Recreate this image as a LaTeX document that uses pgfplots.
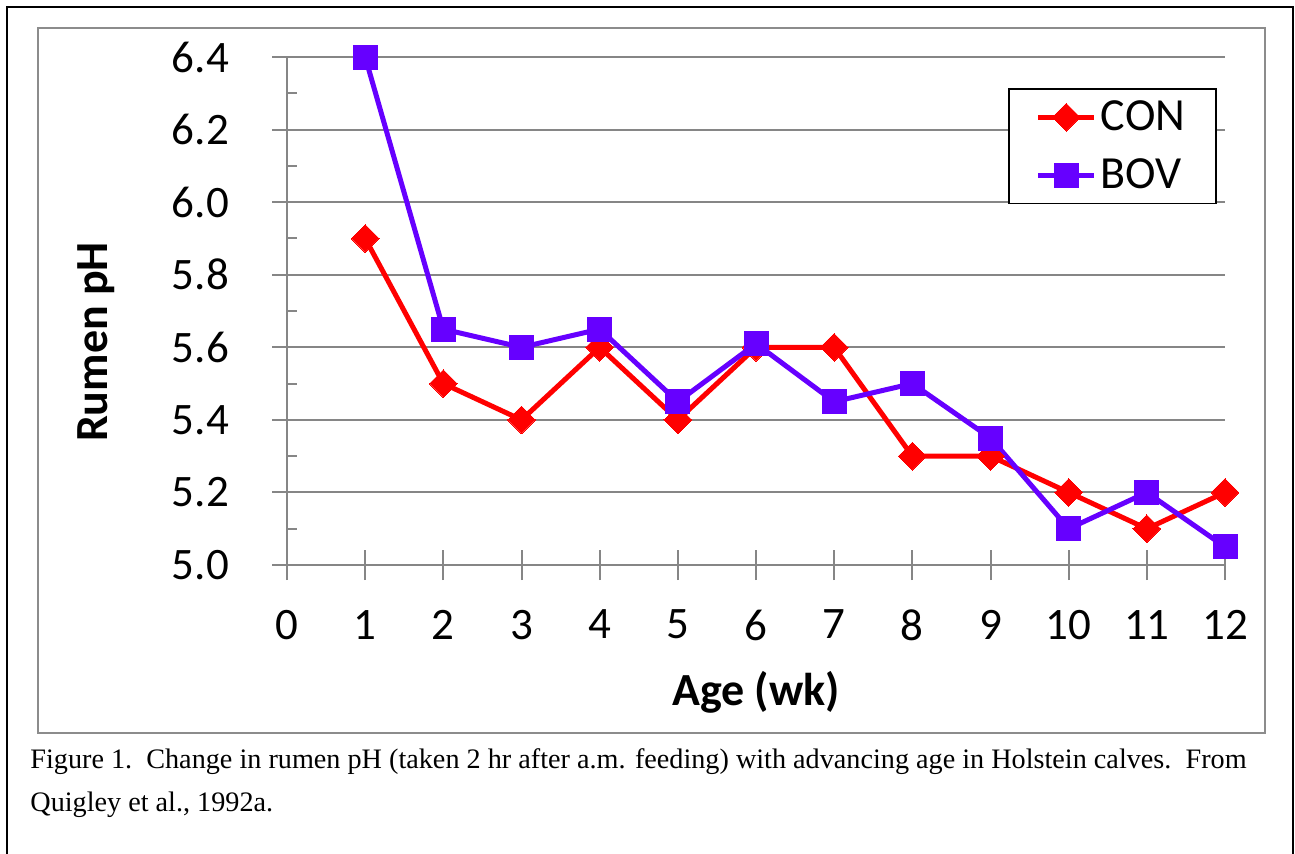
\documentclass[border=0pt]{standalone}
\usepackage{fontspec}
\setmainfont{Carlito}
\newfontfamily\capfont{Liberation Serif}
\usepackage{pgfplots}
\pgfplotsset{compat=1.18}
\definecolor{gridgray}{RGB}{134,134,134}
\definecolor{boxgray}{RGB}{140,140,140}
\definecolor{conred}{RGB}{255,0,0}
\definecolor{bovpurple}{RGB}{102,0,255}
\begin{document}
\begin{tikzpicture}
\path[use as bounding box] (0,0) rectangle (647.5pt,-426.5pt);
% outer frame
\draw[black, line width=1pt] (3.5pt,-430pt) -- (3.5pt,-3.5pt) -- (646.5pt,-3.5pt) -- (646.5pt,-430pt);
% inner chart frame
\draw[boxgray, line width=1pt] (19pt,-14pt) rectangle (632.5pt,-366.5pt);
\begin{axis}[
  at={(143.5pt,-282.5pt)}, anchor=south west,
  scale only axis, width=469pt, height=254pt,
  xmin=0, xmax=12, ymin=5, ymax=6.4,
  axis x line=bottom, axis y line=left,
  axis line style={-, draw=gridgray, line width=1pt},
  xtick={0,1,2,3,4,5,6,7,8,9,10,11,12},
  ytick={5,5.2,5.4,5.6,5.8,6,6.2,6.4},
  minor ytick={5.1,5.3,5.5,5.7,5.9,6.1,6.3},
  tick align=center,
  major tick length=15pt,
  minor tick length=5pt,
  tick style={draw=gridgray, line width=1pt},
  minor y tick style={xshift=2.5pt},
  ymajorgrids,
  major grid style={draw=gridgray, line width=1pt},
  /pgf/number format/assume math mode=true,
  yticklabel style={/pgf/number format/fixed, /pgf/number format/fixed zerofill, /pgf/number format/precision=1, xshift=-18pt},
  ticklabel style={font=\fontsize{22.5pt}{27pt}\selectfont},
  xticklabel style={yshift=-11.5pt},
  xlabel={\textbf{Age (wk)}},
  ylabel={\textbf{Rumen pH}},
  label style={font=\fontsize{23pt}{27pt}\selectfont},
  xlabel style={at={(axis description cs:0.5,-0.251)}, anchor=center},
  ylabel style={at={(axis description cs:-0.2035,0.439)}, anchor=center},
  legend style={at={(axis description cs:0.7687,0.939)}, anchor=north west,
    draw=black, line width=0.8pt, font=\fontsize{23pt}{27pt}\selectfont,
    inner xsep=13.5pt, inner ysep=4pt, row sep=8.5pt},
  legend cell align=left,
  legend image code/.code={\draw[mark repeat=2,mark phase=2,#1] plot coordinates {(0pt,0pt) (14pt,0pt) (28pt,0pt)};},
  clip=false,
]
\addplot[conred, line width=2.5pt, mark=square*, mark size=4.9pt, mark options={rotate=45, solid, fill=conred, draw=conred, line width=0pt}]
  coordinates {(1,5.9) (2,5.5) (3,5.4) (4,5.6) (5,5.4) (6,5.6) (7,5.6) (8,5.3) (9,5.3) (10,5.2) (11,5.1) (12,5.2)};
\addlegendentry{CON}
\addplot[bovpurple, line width=2.5pt, mark=square*, mark size=6pt, mark options={solid, fill=bovpurple, draw=bovpurple, line width=0pt}]
  coordinates {(1,6.4) (2,5.65) (3,5.6) (4,5.65) (5,5.45) (6,5.61) (7,5.45) (8,5.5) (9,5.35) (10,5.1) (11,5.2) (12,5.05)};
\addlegendentry{BOV}
\end{axis}
\node[anchor=base west, inner sep=0pt, font=\capfont\fontsize{14.1pt}{17pt}\selectfont] at (15pt,-384pt) {Figure 1.\ \ Change in rumen pH (taken 2 hr after a.m. feeding) with advancing age in Holstein calves.\ \ From};
\node[anchor=base west, inner sep=0pt, font=\capfont\fontsize{14.1pt}{17pt}\selectfont] at (15pt,-405.5pt) {Quigley et al., 1992a.};
\end{tikzpicture}
\end{document}
